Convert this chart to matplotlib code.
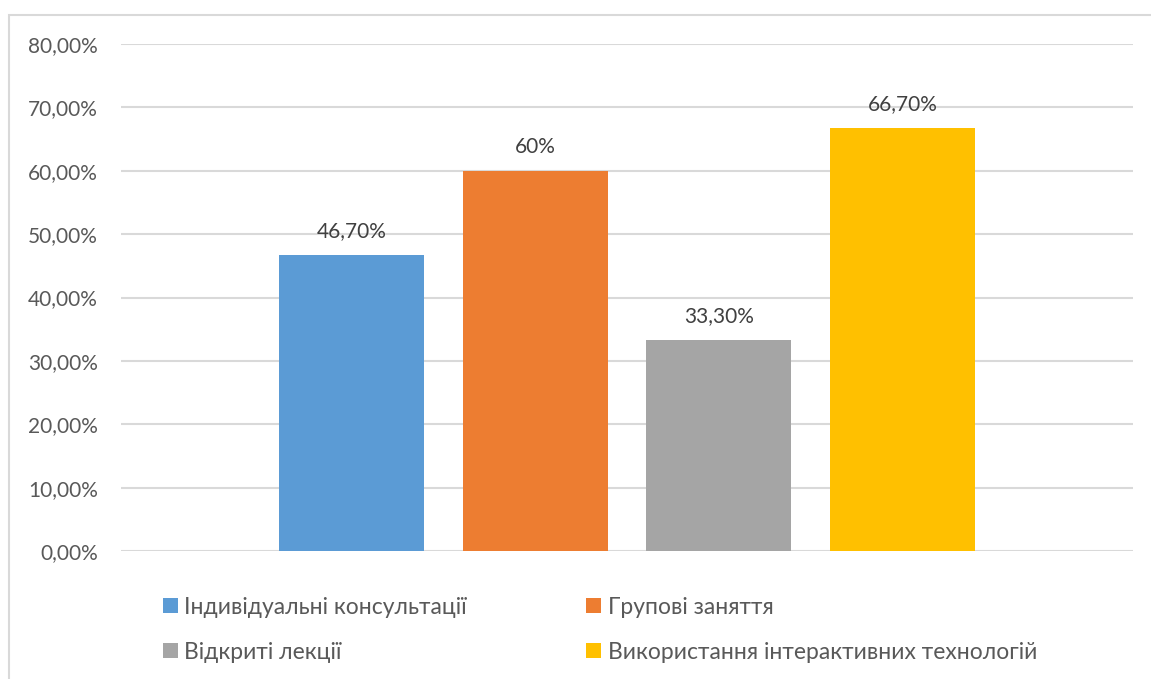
import matplotlib.pyplot as plt
from matplotlib.patches import Rectangle
from matplotlib.ticker import FuncFormatter

plt.rcParams['font.family'] = ['Lato', 'DejaVu Sans']

series = ['Індивідуальні консультації', 'Групові заняття',
          'Відкриті лекції', 'Використання інтерактивних технологій']
values = [0.467, 0.60, 0.333, 0.667]
label_decimals = [2, 0, 2, 2]
colors = ['#5B9BD5', '#ED7D31', '#A5A5A5', '#FFC000']
yticks = [0.0, 0.1, 0.2, 0.3, 0.4, 0.5, 0.6, 0.7, 0.8]

text_color = '#595959'
grid_color = '#D9D9D9'
fs = 15
legend_fs = 16.5


def pct(v, decimals):
    return f'{v * 100:.{decimals}f}%'.replace('.', ',')


fig = plt.figure(figsize=(11.51, 6.79), dpi=100)

# chart area frame (top and left edges visible)
fig.patches.append(Rectangle((9 / 1151, -0.1), 1.2, 1 - 15 / 679 + 0.1,
                             transform=fig.transFigure, fill=False,
                             edgecolor=grid_color, linewidth=1.5))

ax = fig.add_axes([121 / 1151, 1 - 551 / 679, (1133 - 121) / 1151, (551 - 44) / 679])

bars = []
for i, (name, v, c) in enumerate(zip(series, values, colors)):
    b = ax.bar(i, v, width=0.79, color=c, label=name, zorder=3)
    bars.append(b)
    ax.annotate(pct(v, label_decimals[i]), (i, v), xytext=(0, 10),
                textcoords='offset points', ha='center', va='bottom',
                fontsize=fs, color='#404040')

ax.set_xlim(-1.256, 4.256)
ax.set_ylim(0, 0.8)
ax.set_yticks(yticks)
ax.yaxis.set_major_formatter(FuncFormatter(lambda v, _: pct(v, 2)))
ax.tick_params(axis='y', length=0, pad=16.5, labelsize=fs, labelcolor=text_color)
ax.set_xticks([])
ax.grid(axis='y', color=grid_color, linewidth=1.5, zorder=0)
for s in ax.spines.values():
    s.set_visible(False)

# legend: row 1 -> first two series, row 2 -> last two
order = [0, 2, 1, 3]
leg = fig.legend([bars[k] for k in order], [series[k] for k in order],
                 ncol=2, loc='upper left', bbox_to_anchor=(142 / 1151, 1 - 576 / 679),
                 frameon=False, fontsize=legend_fs, labelcolor=text_color,
                 handlelength=0.65, handleheight=0.65, handletextpad=0.3,
                 columnspacing=5.2, labelspacing=1.05)

fig.savefig('out.png', dpi=100)
